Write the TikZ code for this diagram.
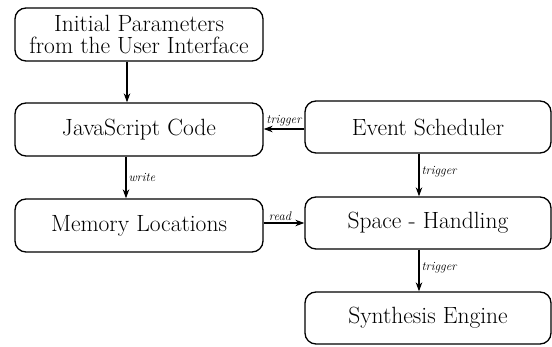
\documentclass[tikz,border=0pt]{standalone}
\usetikzlibrary{arrows.meta}
\begin{document}
\begin{tikzpicture}[x=1pt,y=1pt,
  box/.style={draw, line width=1.3pt, rounded corners=11pt, minimum height=53pt, inner sep=0pt, align=center, font=\fontsize{23.5}{21.5}\selectfont},
  lbox/.style={box, minimum width=248pt},
  rbox/.style={box, minimum width=246pt, minimum height=52pt},
  arr/.style={line width=1.2pt, -{Stealth[length=9pt,width=6.5pt]}},
  lbl/.style={font=\fontsize{12.5}{13}\selectfont\itshape, inner sep=2pt}]
\useasboundingbox (0,0) rectangle (552,347);
\node[lbox] (init) at (139,312.5) {Initial Parameters\\from the User Interface};
\node[lbox] (js) at (139,217.5) {JavaScript Code};
\node[lbox] (mem) at (139,121.5) {Memory Locations};
\node[rbox] (es) at (428,220) {Event Scheduler};
\node[rbox] (sh) at (428,124) {Space - Handling};
\node[rbox] (se) at (428,29) {Synthesis Engine};
\draw[arr] ([xshift=-12pt]init.south) -- ([xshift=-12pt]js.north);
\draw[arr] ([xshift=-13pt]js.south) -- node[lbl, right] (lw) {write} ([xshift=-13pt]mem.north);
\draw[arr] ([yshift=-2pt]es.west) -- node[lbl, above] (lt) {trigger} ([yshift=-2pt]es.west -| js.east);
\draw[arr] (sh.west -| mem.east) -- node[lbl, above, xshift=-4pt] (lr) {read} (sh.west);
\draw[arr] ([xshift=-9pt]es.south) -- node[lbl, right, yshift=3pt] (lt2) {trigger} ([xshift=-9pt]sh.north);
\draw[arr] ([xshift=-9pt]sh.south) -- node[lbl, right, yshift=3pt] (lt3) {trigger} ([xshift=-9pt]se.north);
\end{tikzpicture}
\end{document}
